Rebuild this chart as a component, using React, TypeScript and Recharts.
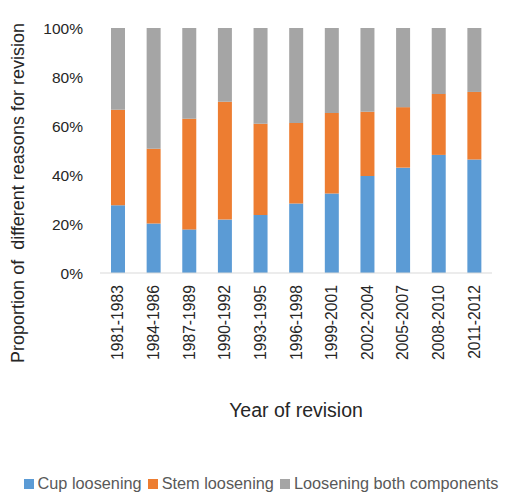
import React from 'react';
import { BarChart, Bar, XAxis, YAxis, Legend } from 'recharts';

const periods = [
  '1981-1983', '1984-1986', '1987-1989', '1990-1992', '1993-1995', '1996-1998',
  '1999-2001', '2002-2004', '2005-2007', '2008-2010', '2011-2012',
];
const cupLoosening = [27.7, 20.2, 17.8, 21.8, 23.7, 28.4, 32.4, 39.6, 43.0, 48.2, 46.3];
const stemLoosening = [38.9, 30.5, 45.2, 48.1, 37.2, 32.8, 32.9, 26.2, 24.7, 24.9, 27.6];
const bothLoosening = [33.4, 49.3, 37.0, 30.1, 39.1, 38.8, 34.7, 34.2, 32.3, 26.9, 26.1];
const yTicks = [0, 20, 40, 60, 80, 100];

const data = periods.map((period, i) => ({
  period,
  cup: cupLoosening[i],
  stem: stemLoosening[i],
  both: bothLoosening[i],
}));

const font = '"Liberation Sans", Arial, sans-serif';
const textColor = '#262626';

const XTick = (props: any) => {
  const { x, y, payload } = props;
  return (
    <text
      x={x}
      y={y}
      transform={`rotate(-90, ${x}, ${y})`}
      textAnchor="end"
      dominantBaseline="central"
      fill={textColor}
      fontSize={15.7}
      fontFamily={font}
    >
      {payload.value}
    </text>
  );
};

// y axis title, centred on the left edge like the original
const YTitle = () => (
  <text
    x={18}
    y={193}
    transform="rotate(-90, 18, 193)"
    textAnchor="middle"
    dominantBaseline="central"
    fill={textColor}
    fontSize={18}
    fontFamily={font}
    style={{ whiteSpace: 'pre' }}
  >
    Proportion of  different reasons for revision
  </text>
);

const legendItems = [
  { name: 'Cup loosening', color: '#5b9bd5' },
  { name: 'Stem loosening', color: '#ed7d31' },
  { name: 'Loosening both components', color: '#a5a5a5' },
];

const LegendContent = () => (
  <div
    style={{
      display: 'flex',
      justifyContent: 'center',
      fontFamily: font,
      fontSize: 16.3,
      color: '#595959',
      gap: 6,
      paddingLeft: 30,
      paddingTop: 5,
      whiteSpace: 'nowrap',
    }}
  >
    {legendItems.map((item) => (
      <span key={item.name} style={{ display: 'flex', alignItems: 'center' }}>
        <span
          style={{
            display: 'inline-block',
            width: 10,
            height: 10,
            background: item.color,
            marginRight: 4,
          }}
        />
        {item.name}
      </span>
    ))}
  </div>
);

export default function App() {
  return (
    <div style={{ position: 'absolute', left: 0, top: 0, background: '#fff' }}>
      <BarChart
        width={510}
        height={493}
        data={data}
        margin={{ top: 28, right: 18, left: 0, bottom: 0 }}
        barSize={14}
      >
        <XAxis
          dataKey="period"
          interval={0}
          tick={<XTick />}
          tickLine={false}
          axisLine={{ stroke: '#d9d9d9' }}
          height={196}
          tickMargin={6}
          label={{
            value: 'Year of revision',
            position: 'insideBottom',
            offset: 52,
            fill: textColor,
            fontSize: 19.5,
            fontFamily: font,
          }}
        />
        <YAxis
          domain={[0, 100]}
          ticks={yTicks}
          tickFormatter={(v) => `${v}%`}
          axisLine={false}
          tickLine={false}
          tickSize={0}
          tickMargin={17}
          width={100}
          tick={{ fill: textColor, fontSize: 15.5, fontFamily: font }}
          label={<YTitle />}
        />
        <Legend verticalAlign="bottom" height={24} content={<LegendContent />} />
        <Bar dataKey="cup" name="Cup loosening" stackId="a" fill="#5b9bd5" isAnimationActive={false} />
        <Bar dataKey="stem" name="Stem loosening" stackId="a" fill="#ed7d31" isAnimationActive={false} />
        <Bar dataKey="both" name="Loosening both components" stackId="a" fill="#a5a5a5" isAnimationActive={false} />
      </BarChart>
    </div>
  );
}
